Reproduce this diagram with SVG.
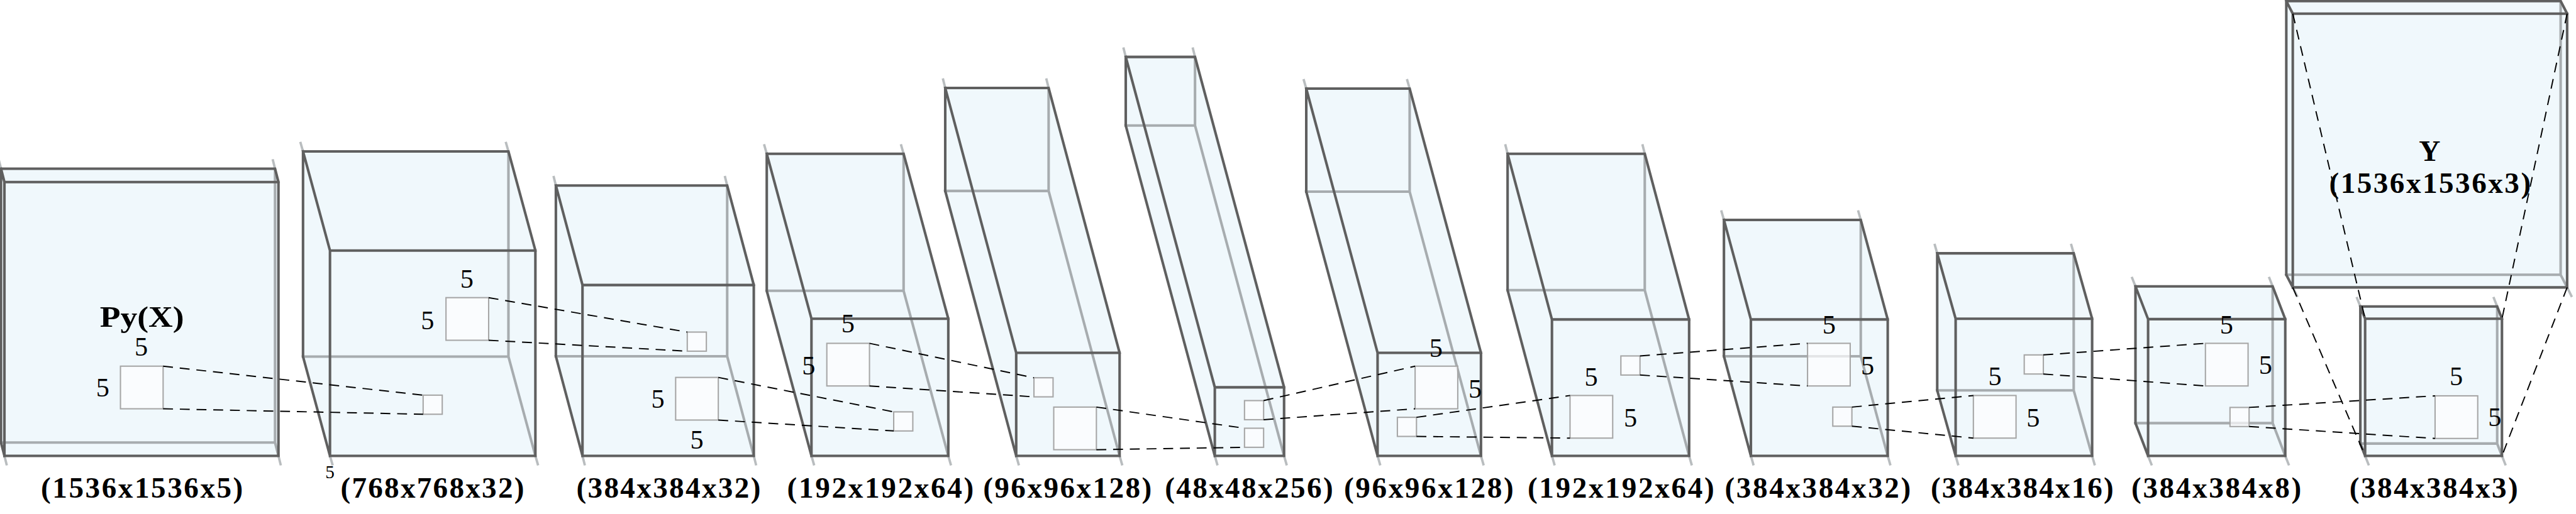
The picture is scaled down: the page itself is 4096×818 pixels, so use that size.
<svg xmlns="http://www.w3.org/2000/svg" width="4096" height="818" viewBox="0 0 4096 818">
<style>
.fill{fill:#f0f8fc;stroke:none}
.hid{fill:none;stroke:#a7acaf;stroke-width:7.5}
.stub{fill:none;stroke:#b9bdbf;stroke-width:7}
.vis{fill:none;stroke:#5f5f5f;stroke-width:7.5;stroke-linecap:square;stroke-linejoin:miter}
.ker{fill:#fdfeff;fill-opacity:0.7;stroke:#a6a6a6;stroke-width:3.8}
.dash{fill:none;stroke:#000;stroke-width:3.6;stroke-dasharray:29 20}
.lbl{font-family:"Liberation Serif",serif;font-weight:bold;font-size:87px;text-anchor:middle;fill:#000}
.five{font-family:"Liberation Serif",serif;font-size:78px;text-anchor:middle;fill:#000}
</style>
<rect width="4096" height="818" fill="#fff"/>
<g transform="scale(0.54259)">
<g id="box1">
<polygon class="fill" points="3,495 806,495 816,534 816,1337 13,1337 3,1298"/>
<path class="hid" d="M806,495V1298H3M806,1298L816,1337"/>
<path class="stub" d="M3,495L-4,467M806,495L799,467M13,1337L20,1365M816,1337L823,1365"/>
<path class="vis" d="M3,1298V495H806L816,534M3,495L13,534M3,1298L13,1337M13,534H816V1337H13Z"/>
<rect class="ker" x="353" y="1074" width="125" height="125"/>
<text class="lbl" x="416" y="958" textLength="247" lengthAdjust="spacingAndGlyphs">Py(X)</text>
<text class="five" x="414" y="1044">5</text>
<text class="five" x="301" y="1163">5</text>
<text class="lbl" x="416" y="1459" textLength="592">(1536x1536x5)</text>
</g>
<g id="box2">
<polygon class="fill" points="888,444 1490,444 1569,735 1569,1337 967,1337 888,1046"/>
<path class="hid" d="M1490,444V1046H888M1490,1046L1569,1337"/>
<path class="stub" d="M888,444L880,416M1490,444L1482,416M967,1337L975,1365M1569,1337L1577,1365"/>
<path class="vis" d="M888,1046V444H1490L1569,735M888,444L967,735M888,1046L967,1337M967,735H1569V1337H967Z"/>
<rect class="ker" x="1240" y="1159" width="56" height="56"/>
<rect class="ker" x="1307" y="873" width="125" height="125"/>
<text class="five" x="1368" y="845">5</text>
<text class="five" x="1253" y="965">5</text>
<text class="five" x="967" y="1403" style="font-size:54px">5</text>
<text class="lbl" x="1267" y="1459" textLength="538">(768x768x32)</text>
</g>
<g id="box3">
<polygon class="fill" points="1629,544 2131,544 2209,836 2209,1337 1707,1337 1629,1045"/>
<path class="hid" d="M2131,544V1045H1629M2131,1045L2209,1337"/>
<path class="stub" d="M1629,544L1622,516M2131,544L2124,516M1707,1337L1714,1365M2209,1337L2216,1365"/>
<path class="vis" d="M1629,1045V544H2131L2209,836M1629,544L1707,836M1629,1045L1707,1337M1707,836H2209V1337H1707Z"/>
<rect class="ker" x="2014" y="974" width="56" height="56"/>
<rect class="ker" x="1980" y="1107" width="125" height="125"/>
<text class="five" x="1928" y="1197">5</text>
<text class="five" x="2042" y="1316">5</text>
<text class="lbl" x="1959" y="1459" textLength="540">(384x384x32)</text>
</g>
<g id="box4">
<polygon class="fill" points="2247,451 2648,451 2779,935 2779,1337 2378,1337 2247,853"/>
<path class="hid" d="M2648,451V853H2247M2648,853L2779,1337"/>
<path class="stub" d="M2247,451L2239,423M2648,451L2640,423M2378,1337L2386,1365M2779,1337L2787,1365"/>
<path class="vis" d="M2247,853V451H2648L2779,935M2247,451L2378,935M2247,853L2378,1337M2378,935H2779V1337H2378Z"/>
<rect class="ker" x="2423" y="1007" width="125" height="125"/>
<rect class="ker" x="2619" y="1208" width="56" height="56"/>
<text class="five" x="2485" y="975">5</text>
<text class="five" x="2370" y="1098">5</text>
<text class="lbl" x="2580" y="1459" textLength="547">(192x192x64)</text>
</g>
<g id="box5">
<polygon class="fill" points="2770,258 3073,258 3281,1035 3281,1337 2978,1337 2770,560"/>
<path class="hid" d="M3073,258V560H2770M3073,560L3281,1337"/>
<path class="stub" d="M2770,258L2763,230M3073,258L3066,230M2978,1337L2986,1365M3281,1337L3289,1365"/>
<path class="vis" d="M2770,560V258H3073L3281,1035M2770,258L2978,1035M2770,560L2978,1337M2978,1035H3281V1337H2978Z"/>
<rect class="ker" x="3030" y="1108" width="56" height="56"/>
<rect class="ker" x="3088" y="1194" width="125" height="125"/>
<text class="lbl" x="3128" y="1459" textLength="494">(96x96x128)</text>
</g>
<g id="box6">
<polygon class="fill" points="3299,167 3502,167 3763,1136 3763,1337 3560,1337 3299,368"/>
<path class="hid" d="M3502,167V368H3299M3502,368L3763,1337"/>
<path class="stub" d="M3299,167L3292,139M3502,167L3495,139M3560,1337L3568,1365M3763,1337L3771,1365"/>
<path class="vis" d="M3299,368V167H3502L3763,1136M3299,167L3560,1136M3299,368L3560,1337M3560,1136H3763V1337H3560Z"/>
<rect class="ker" x="3647" y="1175" width="56" height="56"/>
<rect class="ker" x="3647" y="1256" width="56" height="56"/>
<text class="lbl" x="3660" y="1459" textLength="493">(48x48x256)</text>
</g>
<g id="box7">
<polygon class="fill" points="3828,260 4131,260 4340,1035 4340,1337 4037,1337 3828,562"/>
<path class="hid" d="M4131,260V562H3828M4131,562L4340,1337"/>
<path class="stub" d="M3828,260L3820,232M4131,260L4123,232M4037,1337L4045,1365M4340,1337L4348,1365"/>
<path class="vis" d="M3828,562V260H4131L4340,1035M3828,260L4037,1035M3828,562L4037,1337M4037,1035H4340V1337H4037Z"/>
<rect class="ker" x="4147" y="1074" width="125" height="125"/>
<rect class="ker" x="4095" y="1224" width="56" height="56"/>
<text class="five" x="4208" y="1046">5</text>
<text class="five" x="4323" y="1167">5</text>
<text class="lbl" x="4187" y="1459" textLength="497">(96x96x128)</text>
</g>
<g id="box8">
<polygon class="fill" points="4418,451 4820,451 4950,937 4950,1337 4548,1337 4418,851"/>
<path class="hid" d="M4820,451V851H4418M4820,851L4950,1337"/>
<path class="stub" d="M4418,451L4411,423M4820,451L4813,423M4548,1337L4556,1365M4950,1337L4958,1365"/>
<path class="vis" d="M4418,851V451H4820L4950,937M4418,451L4548,937M4418,851L4548,1337M4548,937H4950V1337H4548Z"/>
<rect class="ker" x="4601" y="1160" width="125" height="125"/>
<rect class="ker" x="4750" y="1044" width="56" height="56"/>
<text class="five" x="4663" y="1132">5</text>
<text class="five" x="4778" y="1252">5</text>
<text class="lbl" x="4750" y="1459" textLength="547">(192x192x64)</text>
</g>
<g id="box9">
<polygon class="fill" points="5052,645 5453,645 5532,937 5532,1337 5131,1337 5052,1045"/>
<path class="hid" d="M5453,645V1045H5052M5453,1045L5532,1337"/>
<path class="stub" d="M5052,645L5044,617M5453,645L5445,617M5131,1337L5139,1365M5532,1337L5540,1365"/>
<path class="vis" d="M5052,1045V645H5453L5532,937M5052,645L5131,937M5052,1045L5131,1337M5131,937H5532V1337H5131Z"/>
<rect class="ker" x="5297" y="1007" width="125" height="125"/>
<rect class="ker" x="5371" y="1194" width="56" height="56"/>
<text class="five" x="5360" y="978">5</text>
<text class="five" x="5473" y="1099">5</text>
<text class="lbl" x="5327" y="1459" textLength="545">(384x384x32)</text>
</g>
<g id="box10">
<polygon class="fill" points="5677,743 6077,743 6131,935 6131,1337 5731,1337 5677,1145"/>
<path class="hid" d="M6077,743V1145H5677M6077,1145L6131,1337"/>
<path class="stub" d="M5677,743L5669,715M6077,743L6069,715M5731,1337L5739,1365M6131,1337L6139,1365"/>
<path class="vis" d="M5677,1145V743H6077L6131,935M5677,743L5731,935M5677,1145L5731,1337M5731,935H6131V1337H5731Z"/>
<rect class="ker" x="5783" y="1160" width="125" height="125"/>
<rect class="ker" x="5932" y="1041" width="56" height="56"/>
<text class="five" x="5846" y="1129">5</text>
<text class="five" x="5958" y="1251">5</text>
<text class="lbl" x="5926" y="1459" textLength="536">(384x384x16)</text>
</g>
<g id="box11">
<polygon class="fill" points="6258,840 6660,840 6697,936 6697,1337 6295,1337 6258,1241"/>
<path class="hid" d="M6660,840V1241H6258M6660,1241L6697,1337"/>
<path class="stub" d="M6258,840L6247,812M6660,840L6649,812M6295,1337L6306,1365M6697,1337L6708,1365"/>
<path class="vis" d="M6258,1241V840H6660L6697,936M6258,840L6295,936M6258,1241L6295,1337M6295,936H6697V1337H6295Z"/>
<rect class="ker" x="6463" y="1007" width="125" height="125"/>
<rect class="ker" x="6535" y="1195" width="56" height="56"/>
<text class="five" x="6525" y="978">5</text>
<text class="five" x="6639" y="1096">5</text>
<text class="lbl" x="6495" y="1459" textLength="498">(384x384x8)</text>
</g>
<g id="box12">
<polygon class="fill" points="6917,899 7318,899 7332,935 7332,1337 6931,1337 6917,1301"/>
<path class="hid" d="M7318,899V1301H6917M7318,1301L7332,1337"/>
<path class="stub" d="M6917,899L6906,871M7318,899L7307,871M6931,1337L6942,1365M7332,1337L7343,1365"/>
<path class="vis" d="M6917,1301V899H7318L7332,935M6917,899L6931,935M6917,1301L6931,1337M6931,935H7332V1337H6931Z"/>
<rect class="ker" x="7136" y="1161" width="125" height="125"/>
<text class="five" x="7198" y="1129">5</text>
<text class="five" x="7311" y="1250">5</text>
<text class="lbl" x="7132" y="1460" textLength="494">(384x384x3)</text>
</g>
<g id="boxY">
<polygon class="fill" points="6700,3 7504,3 7523,40 7523,843 6719,843 6700,806"/>
<path class="hid" d="M7504,3V806H6700M7504,806L7523,843"/>
<path class="stub" d="M6719,843L6733,871M7523,843L7537,871"/>
<path class="vis" d="M6700,806V3H7504L7523,40M6700,3L6719,40M6700,806L6719,843M6719,40H7523V843H6719Z"/>
<text class="lbl" x="7120" y="471">Y</text>
<text class="lbl" x="7121" y="565" textLength="591">(1536x1536x3)</text>
</g>
<g id="connectors">
<path class="dash" d="M478,1074L1240,1159M478,1199L1240,1215"/>
<path class="dash" d="M1432,873L2014,974M1432,998L2014,1030"/>
<path class="dash" d="M2105,1107L2619,1208M2105,1232L2619,1264"/>
<path class="dash" d="M2548,1007L3030,1108M2548,1132L3030,1164"/>
<path class="dash" d="M3213,1194L3647,1256M3213,1319L3647,1312"/>
<path class="dash" d="M3703,1175L4147,1074M3703,1231L4147,1199"/>
<path class="dash" d="M4151,1224L4601,1160M4151,1280L4601,1285"/>
<path class="dash" d="M4806,1044L5297,1007M4806,1100L5297,1132"/>
<path class="dash" d="M5427,1194L5783,1160M5427,1250L5783,1285"/>
<path class="dash" d="M5988,1041L6463,1007M5988,1097L6463,1132"/>
<path class="dash" d="M6591,1195L7136,1161M6591,1251L7136,1286"/>
<path class="dash" d="M6719,40L6931,935M7523,40L7332,935M6719,843L6931,1337M7523,843L7332,1337"/>
</g>
</g>
</svg>
